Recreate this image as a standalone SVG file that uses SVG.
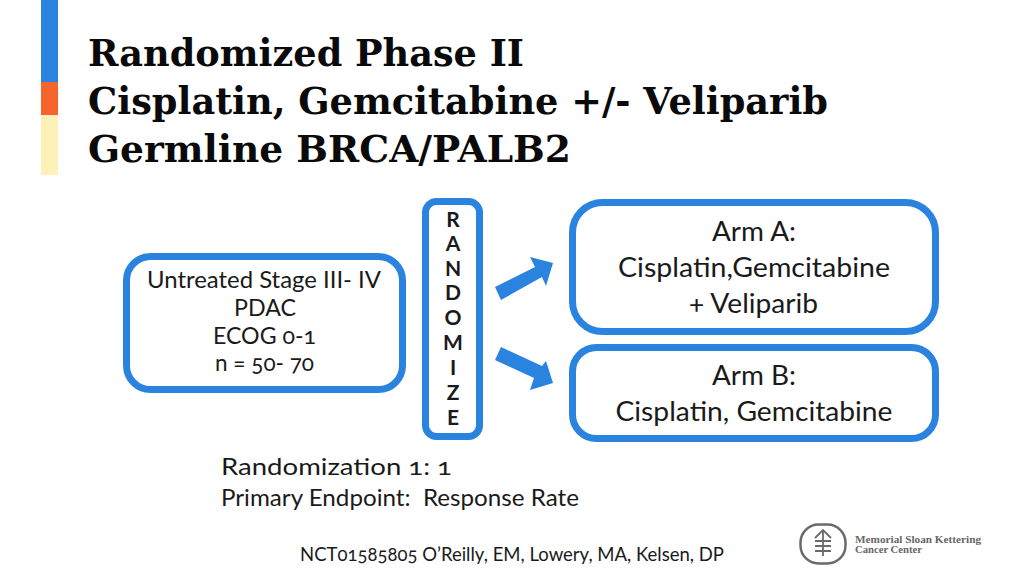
<svg xmlns="http://www.w3.org/2000/svg" width="1024" height="576" viewBox="0 0 1024 576">
<style>
.t{font-family:"DejaVu Serif","Liberation Serif",serif;font-weight:700;font-size:38px;fill:#0a0a0a}
.b{font-family:Lato,"Open Sans",sans-serif;fill:#1a1a1a;font-feature-settings:'onum'}
.c{text-anchor:middle}
.box{fill:#fff;stroke:#2b83e0;stroke-width:7}
.arr{fill:#2b83e0}
.m{font-family:"Liberation Serif",serif;font-weight:700;font-size:10.5px;fill:#666}
</style>
<rect width="1024" height="576" fill="#fff"/>
<g id="accent">
<rect x="41" y="0" width="17" height="82" fill="#2b83e0"/>
<rect x="41" y="82" width="17" height="33" fill="#f4642b"/>
<rect x="41" y="115" width="17" height="60" fill="#fdf0b8"/>
</g>
<g id="title">
<text class="t" x="88" y="66" textLength="436" lengthAdjust="spacingAndGlyphs">Randomized Phase II</text>
<text class="t" x="88" y="114" textLength="740" lengthAdjust="spacingAndGlyphs">Cisplatin, Gemcitabine +/- Veliparib</text>
<text class="t" x="88" y="162" textLength="483" lengthAdjust="spacingAndGlyphs">Germline BRCA/PALB2</text>
</g>
<g id="node-eligibility">
<rect class="box" x="126.500" y="256.500" width="276" height="133" rx="24"/>
<text class="b c" font-size="23" x="264" y="288" textLength="234" lengthAdjust="spacingAndGlyphs">Untreated Stage III- IV</text>
<text class="b c" font-size="23" x="265" y="316" textLength="62" lengthAdjust="spacingAndGlyphs">PDAC</text>
<text class="b c" font-size="23" x="264.500" y="344" textLength="103" lengthAdjust="spacingAndGlyphs">ECOG 0-1</text>
<text class="b c" font-size="23" x="264.500" y="371" textLength="99" lengthAdjust="spacingAndGlyphs">n = 50- 70</text>
</g>
<g id="node-randomize">
<rect class="box" x="425.500" y="201.500" width="54" height="235" rx="11"/>
<g class="b c" font-size="21" font-weight="700" fill="#111">
<text x="453" y="227">R</text><text x="453" y="251">A</text><text x="453" y="276">N</text><text x="453" y="300">D</text><text x="453" y="325">O</text><text x="453" y="350">M</text><text x="453" y="375">I</text><text x="453" y="400">Z</text><text x="453" y="425">E</text>
</g>
</g>
<g id="node-arm-a">
<rect class="box" x="572.500" y="202.500" width="363" height="129" rx="30"/>
<text class="b c" font-size="26" x="754" y="241" textLength="84" lengthAdjust="spacingAndGlyphs">Arm A:</text>
<text class="b c" font-size="26" x="754" y="277" textLength="272" lengthAdjust="spacingAndGlyphs">Cisplatin,Gemcitabine</text>
<text class="b c" font-size="26" x="753.500" y="313" textLength="129" lengthAdjust="spacingAndGlyphs">+ Veliparib</text>
</g>
<g id="node-arm-b">
<rect class="box" x="572.500" y="347.500" width="363" height="91" rx="24"/>
<text class="b c" font-size="26" x="754" y="385" textLength="84" lengthAdjust="spacingAndGlyphs">Arm B:</text>
<text class="b c" font-size="26" x="754" y="421" textLength="277" lengthAdjust="spacingAndGlyphs">Cisplatin, Gemcitabine</text>
</g>
<g id="connectors">
<polygon class="arr" points="495,287 535,267 530,257 553,263 546,286 542,277 501,300"/>
<polygon class="arr" points="501,347 542,366 546,361 553,383 530,390 534,378 495,360"/>
</g>
<g id="notes">
<text class="b" font-size="24" x="221" y="475" textLength="231" lengthAdjust="spacingAndGlyphs">Randomization 1: 1</text>
<text class="b" font-size="24" x="221" y="506" textLength="358" lengthAdjust="spacingAndGlyphs" xml:space="preserve">Primary Endpoint:  Response Rate</text>
<text class="b" font-size="19" x="300" y="561" textLength="424" lengthAdjust="spacingAndGlyphs">NCT01585805 O’Reilly, EM, Lowery, MA, Kelsen, DP</text>
</g>
<g id="logo" fill="none" stroke="#6a6a6a">
<rect x="800.500" y="524.500" width="45" height="39" rx="18" stroke-width="2.500"/>
<path d="M823 530V556M815 538L823 530L831 538M815 541H831M815 546H831M815 551H831" stroke-width="1.800"/>
<text class="m" x="855" y="543" stroke="none" textLength="126" lengthAdjust="spacingAndGlyphs">Memorial Sloan Kettering</text>
<text class="m" x="855" y="552.500" stroke="none" textLength="67" lengthAdjust="spacingAndGlyphs">Cancer Center</text>
</g>
</svg>
